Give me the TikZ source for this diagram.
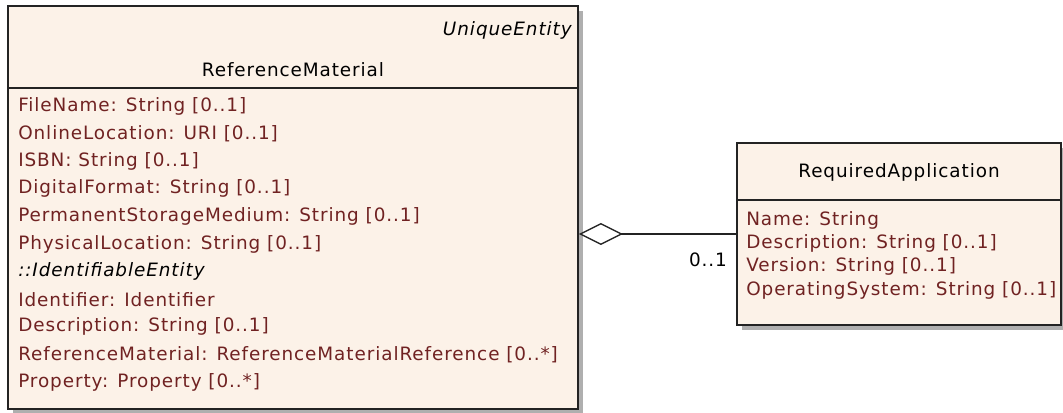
\documentclass[tikz,border=0pt]{standalone}
\usepackage{fontspec}
\setmainfont{DejaVu Sans}[LetterSpace=5]
\usepackage{tikz}
\usetikzlibrary{positioning}
\usetikzlibrary{arrows.meta,shadows}
\definecolor{boxfill}{RGB}{252,242,232}
\definecolor{attrcol}{RGB}{112,34,34}
\definecolor{linecol}{RGB}{35,35,35}
\definecolor{shadowcol}{RGB}{175,175,175}
\tikzset{>=latex}
\tikzset{
  classbox/.style={draw=linecol, line width=1.2pt, fill=boxfill,
    drop shadow={shadow xshift=3.5pt, shadow yshift=-3.5pt, fill=shadowcol, opacity=1}},
  umltext/.style={inner sep=0pt, font=\fontsize{13.8pt}{16pt}\selectfont},
  attr/.style={umltext, anchor=west, text=attrcol},
  stereo/.style={umltext, font=\fontsize{13.8pt}{16pt}\selectfont\itshape},
  aggr/.style={line width=1.1pt, draw=linecol,
    -{Diamond[length=33pt, width=16.5pt, fill=white, line width=1pt]}}
}

\begin{document}
\begin{tikzpicture}[x=0.75pt, y=-0.75pt]
\useasboundingbox (0,0) rectangle (1063,413);

% ================= ReferenceMaterial =================
\node[classbox, minimum width=427.5pt, minimum height=302.25pt] (refmat) at (293,207.5) {};
\draw[line width=1.2pt, linecol] (refmat.west |- 0,88) -- (refmat.east |- 0,88);

\node[stereo, anchor=east] (uniq) at (572,30) {UniqueEntity};
\node[umltext] (refmatname) at (293,70) {ReferenceMaterial};

\foreach \i/\txt in {
  0/{FileName: String [0..1]},
  1/{OnlineLocation: URI [0..1]},
  2/{ISBN: String [0..1]},
  3/{DigitalFormat: String [0..1]},
  4/{PermanentStorageMedium: String [0..1]},
  5/{PhysicalLocation: String [0..1]},
  7/{Identifier: Identifier},
  8/{Description: String [0..1]},
  9/{ReferenceMaterial: ReferenceMaterialReference [0..*]},
  10/{Property: Property [0..*]}
}{
  \node[attr] (rm\i) at (18,{106+27.6*\i}) {\txt};
}
\node[stereo, anchor=west] (rm6) at (18,{106+27.6*6}) {::IdentifiableEntity};

% ================= RequiredApplication =================
\node[classbox, minimum width=243pt, minimum height=136.5pt] (reqapp) at (899,234) {};
\draw[line width=1.2pt, linecol] (reqapp.west |- 0,200) -- (reqapp.east |- 0,200);

\node[umltext] (reqappname) at (899,172) {RequiredApplication};

\foreach \i/\txt in {
  0/{Name: String},
  1/{Description: String [0..1]},
  2/{Version: String [0..1]},
  3/{OperatingSystem: String [0..1]}
}{
  \node[attr] (ra\i) at (746,{220+23.4*\i}) {\txt};
}

% Aggregation
\draw[aggr] (reqapp.west) -- (reqapp.west -| refmat.east);
\node[umltext] (mult) at (708,260) {0..1};

\end{tikzpicture}
\end{document}
